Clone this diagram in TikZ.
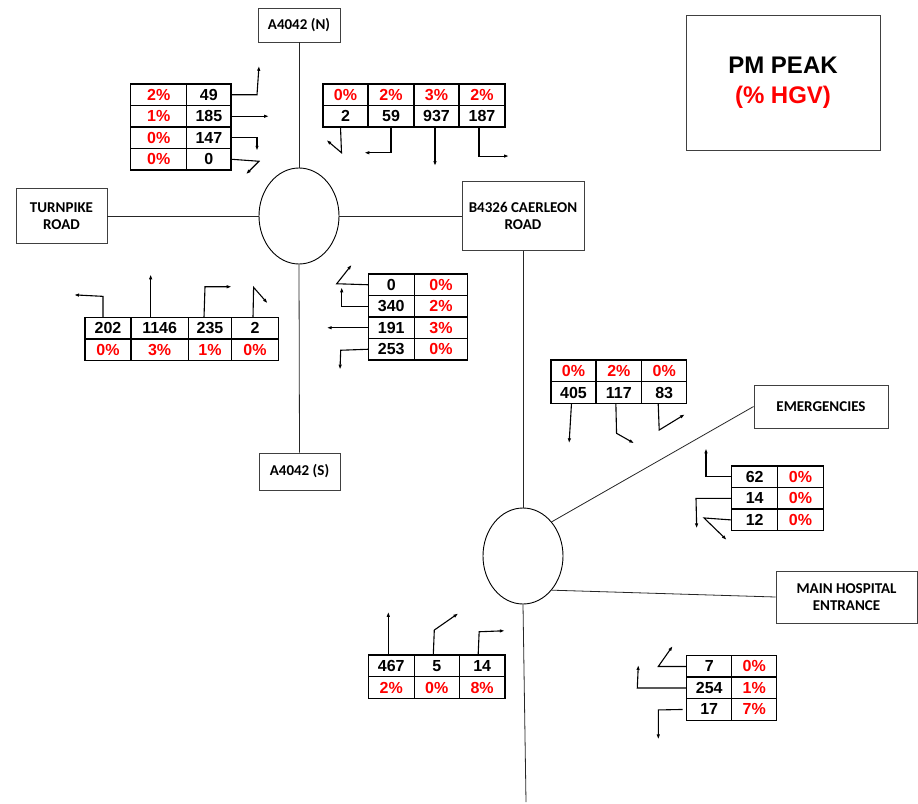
\documentclass[tikz,border=0pt]{standalone}
\usepackage{fontspec}
\setmainfont{Liberation Sans}
\newfontfamily\roadfont{Carlito}
\usetikzlibrary{arrows.meta,shapes.geometric}

\tikzset{
  road/.style={draw=black!75,line width=0.8pt,font=\roadfont\bfseries\fontsize{15}{17.5}\selectfont,align=center,inner sep=0pt},
  street/.style={draw=black!85,line width=0.8pt},
  rbt/.style={ellipse,draw,line width=0.9pt,minimum width=80pt,minimum height=96pt,inner sep=0pt},
  num/.style={draw,line width=1.4pt,font=\bfseries\fontsize{16}{18}\selectfont,minimum height=21.6pt,inner sep=0pt,outer sep=0pt},
  pct/.style={num,text=red},
  mvt/.style={-{Latex[length=5pt,width=3.5pt]},line width=1.1pt},
}

\begin{document}
\begin{tikzpicture}[x=1pt,y=-1pt]
  \useasboundingbox (0,0) rectangle (918,803);
  % Road names and roundabouts
  \node[road,minimum width=82pt,minimum height=34pt] (north) at (299,25) {A4042 (N)};
  \node[road,minimum width=81pt,minimum height=37pt] (south) at (299.5,471.5) {A4042 (S)};
  \node[road,minimum width=91pt,minimum height=55pt] (turn) at (61.5,216) {TURNPIKE\\ROAD};
  \node[road,minimum width=122pt,minimum height=69pt] (caer) at (523,216) {B4326 CAERLEON\\ROAD};
  \node[road,minimum width=134pt,minimum height=43pt] (emerg) at (821,406.5) {EMERGENCIES};
  \node[road,minimum width=141pt,minimum height=52pt] (hosp) at (846.5,597) {MAIN HOSPITAL\\ENTRANCE};
  \node[rbt] (rb1) at (299,216) {};
  \node[rbt] (rb2) at (523,556) {};
  \coordinate (send) at (526,802);
  % Title
  \node[draw=black!75,line width=0.8pt,minimum width=194pt,minimum height=135pt,align=center,
        font=\bfseries\fontsize{24}{30}\selectfont] (title) at (783,82.5) {PM PEAK\\\textcolor{red}{(\% HGV)}};
  % Road links
  \draw[street] (north.south) -- (rb1.north);
  \draw[street] (rb1.south) -- (south.north);
  \draw[street] (turn.east) -- (rb1.west);
  \draw[street] (rb1.east) -- (caer.west);
  \draw[street] (caer.south) -- (rb2.north);
  \draw[street] (rb2.south) -- (send);
  \draw[street] (rb2.50) -- (emerg.west);
  \draw[street] (rb2.-50) -- (hosp.west);

  % A4042 (N) approach
  \foreach \p/\n/\y [count=\i] in {2/49/94.75,1/185/116.25,0/147/137.75,0/0/159.25}{
    \node[pct,minimum width=56pt] (nwp\i) at (158.7,\y) {\p\%};
    \node[num,minimum width=44.3pt] (nwn\i) at (208.85,\y) {\n};
  }
  \draw[mvt] (nwn1.east) -- ++(26,0) -- ++(2,-29);
  \draw[mvt] (nwn2.east) -- ++(38,0);
  \draw[mvt] (nwn3.east) -- ++(26,0) -- ++(0,13);
  \draw[mvt] (nwn4.east) -- ++(28,2) -- ++(-13,13);

  % B4326 approach
  \foreach \p/\n/\x/\w [count=\i] in {0/2/345.5/45pt,2/59/391/46pt,3/937/436.5/45pt,2/187/482/46pt}{
    \node[pct,minimum width=\w] (nep\i) at (\x,94.75) {\p\%};
    \node[num,minimum width=\w] (nen\i) at (\x,116.25) {\n};
  }
  \draw[mvt] ([xshift=-5pt]nen1.south) -- ++(1,25.7) -- ++(-15,-12.7);
  \draw[mvt] (nen2.south) -- ++(0,25.7) -- ++(-26.7,0);
  \draw[mvt] ([xshift=-1.5pt]nen3.south) -- ++(0,39);
  \draw[mvt] ([xshift=-3pt]nen4.south) -- ++(0,29) -- ++(30,0);

  % Turnpike Road approach
  \foreach \n/\p/\x/\w [count=\i] in {202/0/108/46pt,1146/3/159.65/57.3pt,235/1/210/43.4pt,2/0/255/46.6pt}{
    \node[num,minimum width=\w] (swn\i) at (\x,328.15) {\n};
    \node[pct,minimum width=\w] (swp\i) at (\x,349.85) {\p\%};
  }
  \draw[mvt] ([xshift=-5pt]swn1.north) -- ++(0,-21) -- ++(-29,-1.5);
  \draw[mvt] ([xshift=-9pt]swn2.north) -- ++(0,-43);
  \draw[mvt] ([xshift=-6pt]swn3.north) -- ++(1,-30.6) -- ++(26.7,0);
  \draw[mvt] ([xshift=-2pt]swn4.north) -- ++(0.6,-30) -- ++(14,16);

  % A4042 (S) approach
  \foreach \n/\p/\y [count=\i] in {0/0/284.75,340/2/306.25,191/3/327.75,253/0/349.25}{
    \node[num,minimum width=46pt] (sen\i) at (391.3,\y) {\n};
    \node[pct,minimum width=53.4pt] (sep\i) at (441,\y) {\p\%};
  }
  \draw[mvt] (sen1.west) -- ++(-31.6,-1) -- ++(15,-19);
  \draw[mvt] (sen2.west) -- ++(-26.6,0) -- ++(0,-19);
  \draw[mvt] (sen3.west) -- ++(-41.6,0);
  \draw[mvt] (sen4.west) -- ++(-27.6,1) -- ++(-0.7,19.4);

  % B4326 approach to hospital roundabout
  \foreach \p/\n/\x/\w [count=\i] in {0/405/573.5/45pt,2/117/618.85/45.7pt,0/83/664.2/45pt}{
    \node[pct,minimum width=\w] (cap\i) at (\x,370.85) {\p\%};
    \node[num,minimum width=\w] (can\i) at (\x,392.5) {\n};
  }
  \draw[mvt] ([xshift=-2pt]can1.south) -- ++(-2.4,40);
  \draw[mvt] ([xshift=-3pt]can2.south) -- ++(0.7,30) -- ++(17.6,10);
  \draw[mvt] ([xshift=-6pt]can3.south) -- ++(1,26.7) -- ++(25.7,-15.7);

  % Emergencies approach
  \foreach \n/\p/\y [count=\i] in {62/0/476.8,14/0/498.4,12/0/519.95}{
    \node[num,minimum width=46pt] (emn\i) at (754.7,\y) {\n};
    \node[pct,minimum width=45.6pt] (emp\i) at (800.5,\y) {\p\%};
  }
  \draw[mvt] (emn1.west) -- ++(-25.7,0) -- ++(0,-28.5);
  \draw[mvt] (emn2.west) -- ++(-35.7,0) -- ++(0.7,30);
  \draw[mvt] (emn3.west) -- ++(-27.7,-2) -- ++(22.7,22);

  % Southern approach
  \foreach \n/\p/\x/\w [count=\i] in {467/2/391.3/46pt,5/0/436.8/45pt,14/8/482.15/45.7pt}{
    \node[num,minimum width=\w] (sn\i) at (\x,665.85) {\n};
    \node[pct,minimum width=\w] (sp\i) at (\x,687.5) {\p\%};
  }
  \draw[mvt] ([xshift=-3pt]sn1.north) -- ++(0,-43.3);
  \draw[mvt] ([xshift=-3.5pt]sn2.north) -- ++(1,-25) -- ++(24,-16.7);
  \draw[mvt] ([xshift=-4pt]sn3.north) -- ++(1,-23.3) -- ++(25.7,-1);

  % Main hospital entrance approach
  \foreach \n/\p/\y [count=\i] in {7/0/666.45,254/1/687.95,17/7/709.45}{
    \node[num,minimum width=45pt] (hn\i) at (709.2,\y) {\n};
    \node[pct,minimum width=45pt] (hp\i) at (754.2,\y) {\p\%};
  }
  \draw[mvt] (hn1.west) -- ++(-28.4,0) -- ++(14.4,-20.5);
  \draw[mvt] (hn2.west) -- ++(-49.4,0) -- ++(1,-23);
  \draw[mvt] ([xshift=-4pt]hn3.west) -- ++(-24.4,0.5) -- ++(0,29.5);
\end{tikzpicture}
\end{document}
